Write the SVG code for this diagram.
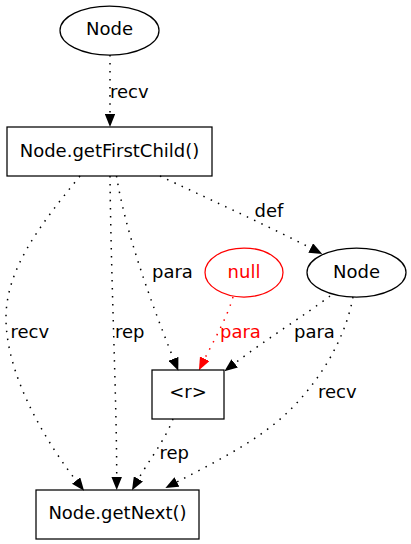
<svg xmlns="http://www.w3.org/2000/svg" width="411" height="544" viewBox="0 0 411 544">
<style>
text{font-family:"DejaVu Sans","Liberation Sans",sans-serif;font-size:18px;fill:#000}
.n{text-anchor:middle}
.red{fill:#ff0000}
.shape{fill:none;stroke:#000;stroke-width:1.25}
.e{fill:none;stroke:#000;stroke-width:1.5;stroke-dasharray:1.5,6.5;stroke-linecap:butt}
.er{stroke:#ff0000}
</style>
<defs>
<marker id="ah" markerUnits="userSpaceOnUse" viewBox="0 0 13 10.5" markerWidth="13" markerHeight="10.5" refX="0" refY="5.25" orient="auto"><path d="M0,0 L13,5.25 L0,10.5 z" fill="#000"/></marker>
<marker id="ahr" markerUnits="userSpaceOnUse" viewBox="0 0 13 10.5" markerWidth="13" markerHeight="10.5" refX="0" refY="5.25" orient="auto"><path d="M0,0 L13,5.25 L0,10.5 z" fill="#ff0000"/></marker>
</defs>
<rect width="411" height="544" fill="#fff"/>
<g id="edges">
<path class="e" d="M110,55 C110,75 110,95 110,114" marker-end="url(#ah)"/>
<path class="e" d="M80,176 C40,225 5,270 6,320 C7,380 50,447 76.1,480.6" marker-end="url(#ah)"/>
<path class="e" d="M110,176 C111,280 116.7,400 116.7,477" marker-end="url(#ah)"/>
<path class="e" d="M116.5,176 C125,230 150,300 173.5,358.8" marker-end="url(#ah)"/>
<path class="e" d="M160,176 C200,195 260,222 310.7,248" marker-end="url(#ah)"/>
<path class="e er" d="M233,297 C227,318 213,342 204.7,358.7" marker-end="url(#ahr)"/>
<path class="e" d="M330,296 C305,315 265,340 234.7,363.4" marker-end="url(#ah)"/>
<path class="e" d="M353,297 C345,340 320,380 290,410 C260,440 215,462 176.9,482" marker-end="url(#ah)"/>
<path class="e" d="M173,419 C165,440 148,462 138.4,478.9" marker-end="url(#ah)"/>
<text x="110" y="97.5">recv</text>
<text x="10.5" y="338">recv</text>
<text x="115" y="338">rep</text>
<text x="152" y="278">para</text>
<text x="254.5" y="216.5">def</text>
<text class="red" x="220" y="338">para</text>
<text x="294" y="338">para</text>
<text x="318" y="398">recv</text>
<text x="159.5" y="458.5">rep</text>
</g>
<g id="node_top">
<ellipse class="shape" cx="109.5" cy="30.5" rx="49.5" ry="24.5"/>
<text class="n" x="109.5" y="35">Node</text>
</g>
<g id="node_getFirstChild">
<rect class="shape" x="7" y="127" width="205" height="49"/>
<text class="n" x="109.5" y="157">Node.getFirstChild()</text>
</g>
<g id="node_null">
<ellipse class="shape" cx="244" cy="272.5" rx="39" ry="24.5" style="stroke:#ff0000"/>
<text class="n red" x="244" y="277.5">null</text>
</g>
<g id="node_right">
<ellipse class="shape" cx="356.5" cy="272.5" rx="49.5" ry="24.5"/>
<text class="n" x="356.5" y="277.5">Node</text>
</g>
<g id="node_r">
<rect class="shape" x="152" y="370" width="72" height="49"/>
<text class="n" x="188" y="398">&lt;r&gt;</text>
</g>
<g id="node_getNext">
<rect class="shape" x="36" y="490" width="163" height="49"/>
<text class="n" x="117.5" y="519">Node.getNext()</text>
</g>
</svg>
